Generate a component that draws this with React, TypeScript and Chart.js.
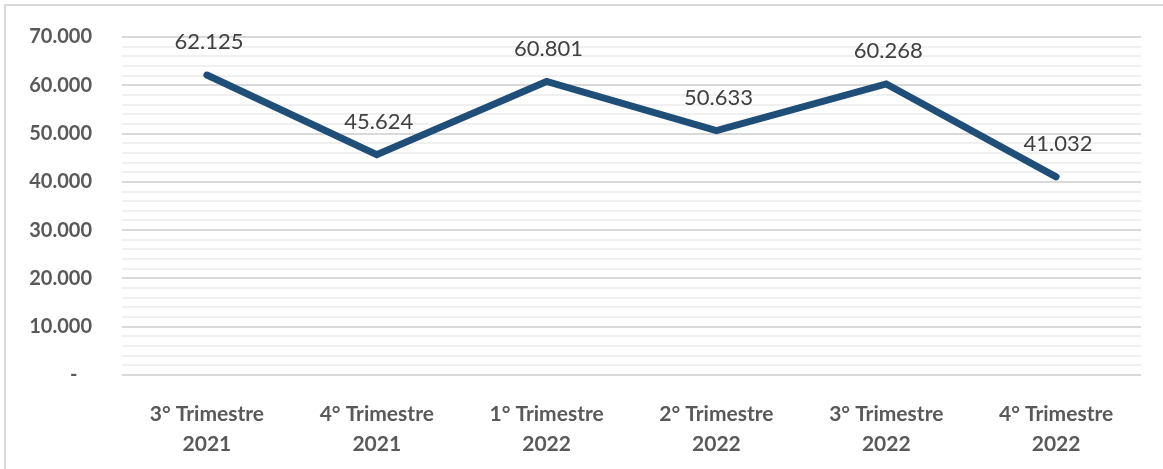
import React, { useEffect, useRef } from "react";
import { Chart, registerables } from "chart.js";

Chart.register(...registerables);

const categories: string[][] = [
  ["3° Trimestre", "2021"],
  ["4° Trimestre", "2021"],
  ["1° Trimestre", "2022"],
  ["2° Trimestre", "2022"],
  ["3° Trimestre", "2022"],
  ["4° Trimestre", "2022"],
];
const values: number[] = [62125, 45624, 60801, 50633, 60268, 41032];

const yMin = 0;
const yMax = 70000;
const minorStep = 2000;
const majorStep = 10000;

const FONT = "Lato, 'Open Sans', sans-serif";

const fmt = (v: number) =>
  v === 0 ? "-   " : Math.round(v).toString().replace(/\B(?=(\d{3})+(?!\d))/g, ".");

// Value labels above each point of the line
const valueLabels = {
  id: "valueLabels",
  afterDatasetsDraw(chart: any) {
    const ctx = chart.ctx;
    const meta = chart.getDatasetMeta(0);
    ctx.save();
    ctx.font = `22px ${FONT}`;
    ctx.fillStyle = "#404040";
    ctx.textAlign = "center";
    ctx.textBaseline = "middle";
    meta.data.forEach((pt: any, i: number) => {
      ctx.fillText(fmt(values[i]), pt.x + 2, pt.y - 33);
    });
    ctx.restore();
  },
};

export default function App() {
  const ref = useRef<HTMLCanvasElement | null>(null);

  useEffect(() => {
    if (!ref.current) return;
    const chart = new Chart(ref.current, {
      type: "line",
      data: {
        labels: categories,
        datasets: [
          {
            data: values,
            borderColor: "#1F4E79",
            borderWidth: 7,
            borderCapStyle: "round",
            borderJoinStyle: "miter",
            pointRadius: 0,
            tension: 0,
            fill: false,
          },
        ],
      },
      options: {
        animation: false,
        responsive: false,
        layout: { padding: { left: 20, right: 22, top: 37, bottom: 8 } },
        plugins: { legend: { display: false }, tooltip: { enabled: false } },
        scales: {
          x: {
            offset: true,
            grid: { display: false },
            border: { display: false },
            ticks: {
              color: "#595959",
              font: { family: FONT, size: 21, weight: "bold", lineHeight: 1.4 },
              padding: 17,
              maxRotation: 0,
            },
            afterFit(scale: any) {
              scale.height = 469 - 375 - 8;
            },
          },
          y: {
            min: yMin,
            max: yMax,
            grid: {
              drawTicks: true,
              tickLength: 24,
              tickColor: "rgba(0,0,0,0)",
              lineWidth: 2,
              color: (c: any) =>
                c.tick && c.tick.value % majorStep === 0 ? "#d9d9d9" : "#f0f0f0",
            },
            border: { display: false },
            ticks: {
              stepSize: minorStep,
              autoSkip: false,
              color: "#595959",
              font: { family: FONT, size: 20, weight: "bold" },
              padding: 6,
              callback: (v: any) => (Number(v) % majorStep === 0 ? fmt(Number(v)) : ""),
            },
            afterFit(scale: any) {
              scale.width = 122 - 20;
            },
          },
        },
      },
      plugins: [valueLabels],
    });
    return () => chart.destroy();
  }, []);

  return (
    <div
      style={{
        position: "fixed",
        left: 0,
        top: 0,
        width: 1163,
        height: 469,
        background: "#ffffff",
      }}
    >
      <div
        style={{
          position: "absolute",
          left: 4,
          top: 4,
          right: 0,
          bottom: 0,
          borderTop: "2px solid #d9d9d9",
          borderLeft: "2px solid #d9d9d9",
        }}
      />
      <canvas
        ref={ref}
        width={1163}
        height={469}
        style={{ position: "absolute", left: 0, top: 0 }}
      />
    </div>
  );
}
